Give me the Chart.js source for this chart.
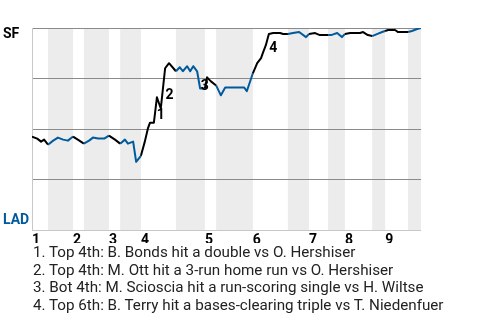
<!DOCTYPE html>
<html>
<head>
<meta charset="utf-8">
<script src="https://cdn.jsdelivr.net/npm/chart.js@4/dist/chart.umd.min.js"></script>
<style>
  html, body { margin: 0; padding: 0; background: #fff; }
  #wrap { position: relative; width: 480px; height: 320px; }
  #notes {
    position: absolute; left: 33px; top: 244px;
    font: 15.2px Roboto, "Liberation Sans", sans-serif; color: #222;
    line-height: 17.5px; white-space: nowrap;
  }
</style>
</head>
<body>
<div id="wrap">
  <canvas id="wp" width="480" height="320"></canvas>
  <div id="notes">
    <div>1. Top 4th: B. Bonds hit a double vs O. Hershiser</div>
    <div>2. Top 4th: M. Ott hit a 3-run home run vs O. Hershiser</div>
    <div>3. Bot 4th: M. Scioscia hit a run-scoring single vs H. Wiltse</div>
    <div>4. Top 6th: B. Terry hit a bases-clearing triple vs T. Niedenfuer</div>
  </div>
</div>
<script>
// 勝率推移データ（プレー番号 → SF勝率 %）
const plays = [
  0, 1.2, 2.1, 2.8, 3.7,
  4.9, 6.0, 7.2, 8.3, 9.5,
  10.6, 12.0,
  13.2, 14.1, 15.3, 16.7, 17.8,
  19.2, 20.4,
  21.5, 22.2, 23.4, 24.1, 25.2,
  26.1, 26.8, 27.3, 28.2, 28.9, 29.8, 30.8, 31.7, 33.3,
  34.2, 34.9, 35.9, 36.6, 37.3, 38.2, 38.9, 40.0,
  40.5, 41.4, 42.6,
  43.7, 44.7, 49.1, 49.7, 51.1,
  52.1, 53.0, 53.4, 54.1, 54.8, 55.8, 57.4, 58.1, 59.2,
  60.4, 61.8, 63.4, 64.1,
  65.5, 66.6, 68.5,
  69.2, 70.6, 71.7, 72.4,
  73.6, 75.9, 76.6, 77.7, 78.7,
  79.8, 81.0, 81.7,
  82.4, 84.0, 84.7, 87.0,
  87.9, 89.1, 90.0
];
const sfWinPct = [
  46.3, 45.3, 43.8, 44.8, 42.3,
  44.3, 45.8, 44.8, 44.3, 46.3,
  44.8, 42.8,
  44.3, 45.8, 45.3, 45.3, 46.8,
  44.8, 42.8,
  44.8, 42.8, 43.8, 33.8, 36.8,
  43.8, 50.2, 53.2, 53.2, 65.7, 60.2, 80.1, 82.6, 78.6,
  80.6, 78.6, 81.1, 78.6, 81.1, 78.6, 70.1, 70.1,
  75.6, 73.6, 71.6,
  66.7, 70.6, 70.6, 68.7, 77.6,
  82.6, 85.1, 87.6, 91.5, 97.0, 97.5, 97.5, 97.0, 97.0,
  97.5, 98.0, 95.5, 97.0,
  97.5, 96.5, 96.5,
  96.5, 97.5, 95.5, 97.0,
  97.5, 97.5, 98.0, 96.5, 96.0,
  97.0, 98.0, 98.5,
  99.0, 99.0, 98.0, 98.0,
  98.5, 99.5, 100
];

// イニング区切り（表の開始 / 裏の開始）
const inningLabels = ['1', '2', '3', '4', '5', '6', '7', '8', '9'];
const topStarts = [0, 9.5, 17.8, 25.2, 40.0, 51.1, 64.1, 72.4, 81.7];
const bottomStarts = [3.7, 12.0, 20.4, 33.3, 42.6, 59.2, 68.5, 78.7, 87.0];
const lastPlay = 90;

// 注目プレーの番号ラベル位置
const markerLabels = ['1', '2', '3', '4'];
const markerPlays = [29.8, 31.8, 40.0, 55.8];
const markerWinPct = [56.7, 66.7, 70.9, 90.0];

const SF_COLOR = '#000000';
const LAD_COLOR = '#005a9c';

function isBottomHalf(x) {
  for (let i = 0; i < bottomStarts.length; i++) {
    const end = i + 1 < topStarts.length ? topStarts[i + 1] : lastPlay;
    if (x >= bottomStarts[i] && x <= end) return true;
  }
  return false;
}

// 裏の回の背景バンド
const bandPlugin = {
  id: 'bands',
  beforeDraw(chart) {
    const { ctx, chartArea, scales } = chart;
    ctx.save();
    ctx.fillStyle = '#ececec';
    bottomStarts.forEach((start, i) => {
      const end = i + 1 < topStarts.length ? topStarts[i + 1] : lastPlay;
      const x0 = scales.x.getPixelForValue(start);
      const x1 = scales.x.getPixelForValue(end);
      ctx.fillRect(x0, chartArea.top, x1 - x0, chartArea.bottom - chartArea.top);
    });
    ctx.restore();
  }
};

// チーム名と注目プレー番号
const labelPlugin = {
  id: 'labels',
  afterDatasetsDraw(chart) {
    const { ctx, scales } = chart;
    ctx.save();
    ctx.font = 'bold 14px Roboto, "Liberation Sans", sans-serif';
    ctx.textBaseline = 'middle';
    ctx.textAlign = 'left';
    ctx.fillStyle = SF_COLOR;
    ctx.fillText('SF', 3, scales.y.getPixelForValue(100) + 6);
    ctx.fillStyle = LAD_COLOR;
    ctx.fillText('LAD', 3, scales.y.getPixelForValue(0) - 10);

    ctx.textAlign = 'center';
    ctx.fillStyle = '#000';
    markerLabels.forEach((lbl, i) => {
      ctx.fillText(lbl, scales.x.getPixelForValue(markerPlays[i]), scales.y.getPixelForValue(markerWinPct[i]));
    });
    ctx.restore();
  }
};

const points = plays.map((p, i) => ({ x: p, y: sfWinPct[i] }));

new Chart(document.getElementById('wp'), {
  type: 'line',
  data: {
    datasets: [{
      data: points,
      borderWidth: 2,
      borderColor: SF_COLOR,
      borderJoinStyle: 'round',
      pointRadius: 0,
      tension: 0,
      segment: {
        borderColor: ctx => isBottomHalf((ctx.p0.parsed.x + ctx.p1.parsed.x) / 2) ? LAD_COLOR : SF_COLOR
      }
    }]
  },
  options: {
    responsive: false,
    animation: false,
    layout: { padding: { left: 32, right: 59, top: 28, bottom: 77 } },
    plugins: { legend: { display: false }, tooltip: { enabled: false } },
    scales: {
      x: {
        type: 'linear',
        min: 0,
        max: lastPlay,
        grid: { display: false },
        border: { display: false },
        afterBuildTicks: scale => { scale.ticks = topStarts.map(v => ({ value: v })); },
        ticks: {
          autoSkip: false,
          maxRotation: 0,
          align: 'start',
          padding: -6,
          color: '#000',
          font: { family: 'Roboto, "Liberation Sans", sans-serif', size: 14, weight: 'bold' },
          callback: (val, idx) => inningLabels[idx]
        }
      },
      y: {
        min: 0,
        max: 100,
        ticks: { display: false, stepSize: 25 },
        grid: {
          drawTicks: false,
          color: c => c.tick.value === 0 ? '#c8c8c8' : '#8a8a8a',
          lineWidth: 1
        },
        border: { display: true, color: '#c8c8c8', width: 1 }
      }
    }
  },
  plugins: [bandPlugin, labelPlugin]
});
</script>
</body>
</html>
